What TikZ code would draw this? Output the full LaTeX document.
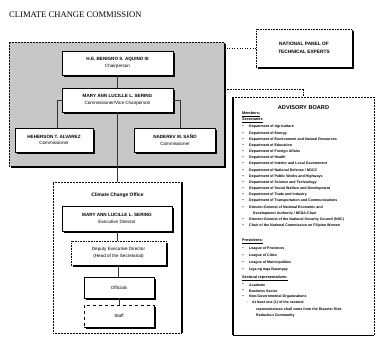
\documentclass[tikz,border=0pt]{standalone}
\usepackage{fontspec}
\setmainfont{Liberation Sans}
\newfontfamily\titlefont{Liberation Serif}
\usetikzlibrary{shadows}
\begin{document}
\begin{tikzpicture}[x=1pt,y=-1pt,
  shadowed/.style={drop shadow={shadow xshift=1.8pt,shadow yshift=-1.8pt,fill=black,opacity=1}},
  pbox/.style={draw=black, line width=0.6pt, fill=white, inner sep=0pt, align=center, shadowed,
     font=\fontsize{4.6}{6.6}\selectfont},
  dotbox/.style={pbox, densely dotted},
  conn/.style={draw=black!80, line width=0.5pt},
  dconn/.style={draw=black, line width=0.6pt, dotted},
  adv/.style={anchor=west, inner sep=0pt, font=\fontsize{3.6}{4}\selectfont\bfseries},
  bul/.style={anchor=center, inner sep=0pt, font=\fontsize{4}{4}\selectfont},
  advhead/.style={anchor=west, inner sep=0pt, font=\fontsize{3.8}{4}\selectfont\bfseries}
]
\useasboundingbox (0,0) rectangle (376,337);

% title
\node[anchor=west, inner sep=0pt, font=\titlefont\fontsize{8.6}{9}\selectfont] (title) at (9,15) {CLIMATE CHANGE COMMISSION};

% commission background
\node[draw=black, densely dotted, line width=0.5pt, fill=black!22, inner sep=0pt,
      minimum width=215pt, minimum height=124pt, shadowed] (comm) at (116.5,104) {};

\node[pbox, minimum width=111pt, minimum height=24pt] (chair) at (117.5,63)
  {\textbf{H.E. BENIGNO S. AQUINO III}\\Chairperson};
\node[pbox, minimum width=111pt, minimum height=24pt] (vice) at (117.5,100)
  {\textbf{MARY ANN LUCILLE L. SERING}\\Commissioner/Vice Chairperson};
\node[pbox, minimum width=78pt, minimum height=24pt] (lc) at (54,140)
  {\textbf{HEHERSON T. ALVAREZ}\\Commissioner};
\node[pbox, minimum width=81pt, minimum height=24pt] (rc) at (175,140)
  {\textbf{NADEREV M. SAÑO}\\Commissioner};

\coordinate (lj) at (57,128);
\coordinate (rj) at (180,128);
\draw[conn] (chair.south) -- (vice.north);
\draw[conn] (vice.west) -| (lj);
\draw[conn] (vice.east) -| (rj);

% national panel
\node[dotbox, minimum width=96pt, minimum height=38pt, font=\fontsize{4.8}{8}\selectfont\bfseries] (npte) at (304,48)
  {NATIONAL PANEL OF\\TECHNICAL EXPERTS};
\draw[dconn] (npte.west) -- (npte.west -| comm.east);

% climate change office
\node[draw=black, densely dotted, line width=0.5pt, fill=white, inner sep=0pt,
      minimum width=129pt, minimum height=151pt] (cco) at (117.5,257.5) {};
\draw[line width=1.6pt] (cco.north east) -- (cco.south east);
\draw[conn] (vice.south) -- (vice.south |- cco.north);
\node[inner sep=0pt, font=\fontsize{4.9}{5}\selectfont\bfseries] (ccol) at (117.5,195) {Climate Change Office};

\node[pbox, minimum width=110pt, minimum height=25pt] (ed) at (117,218.5)
  {\textbf{MARY ANN LUCILLE L. SERING}\\Executive Director};
\node[dotbox, minimum width=95pt, minimum height=24pt] (dep) at (118.5,253)
  {Deputy Executive Director\\(Head of the Secretariat)};
\node[pbox, minimum width=70pt, minimum height=21pt] (off) at (119,287.5) {Officials};
\node[pbox, dashed, minimum width=70pt, minimum height=22pt] (staff) at (119,316) {Staff};
\draw[conn] (ed.south) -- (ed.south |- dep.north);
\draw[conn] (dep.south) -- (dep.south |- off.north);
\draw[conn] (off.south) -- (staff.north);

% advisory board
\node[draw=black, densely dotted, line width=0.5pt, fill=white, inner sep=0pt,
      minimum width=141pt, minimum height=238pt] (adv) at (303.5,216) {};
\draw[line width=1.5pt] (adv.north west) -- (adv.south west);
\draw[line width=1.2pt] (adv.south west) -- (adv.south east);
\coordinate (aj) at (225,89);
\draw[dconn, densely dotted] (aj) -| (adv.north);

\node[inner sep=0pt, font=\fontsize{5.6}{6}\selectfont\bfseries] (advt) at (303.5,108) {ADVISORY BOARD};
\node[advhead] (mem) at (242,114.5) {\underline{Members:}};
\node[advhead] (sec) at (242,120.5) {\underline{Secretaries}};

\node[bul] (b1) at (243,127) {•}; \node[adv] (i1) at (249,127) {Department of Agriculture};
\node[bul] (b2) at (243,133.2) {•}; \node[adv] (i2) at (249,133.2) {Department of Energy};
\node[bul] (b3) at (243,139.3) {•}; \node[adv] (i3) at (249,139.3) {Department of Environment and Natural Resources};
\node[bul] (b4) at (243,145.5) {•}; \node[adv] (i4) at (249,145.5) {Department of Education};
\node[bul] (b5) at (243,151.6) {•}; \node[adv] (i5) at (249,151.6) {Department of Foreign Affairs};
\node[bul] (b6) at (243,157.8) {•}; \node[adv] (i6) at (249,157.8) {Department of Health};
\node[bul] (b7) at (243,164) {•}; \node[adv] (i7) at (249,164) {Department of Interior and Local Government};
\node[bul] (b8) at (243,170.1) {•}; \node[adv] (i8) at (249,170.1) {Department of National Defense / NDCC};
\node[bul] (b9) at (243,176.3) {•}; \node[adv] (i9) at (249,176.3) {Department of Public Works and Highways};
\node[bul] (b10) at (243,182.4) {•}; \node[adv] (i10) at (249,182.4) {Department of Science and Technology};
\node[bul] (b11) at (243,188.6) {•}; \node[adv] (i11) at (249,188.6) {Department of Social Welfare and Development};
\node[bul] (b12) at (243,194.8) {•}; \node[adv] (i12) at (249,194.8) {Department of Trade and Industry};
\node[bul] (b13) at (243,200.9) {•}; \node[adv] (i13) at (249,200.9) {Department of Transportation and Communications};
\node[bul] (b14) at (243,207.1) {•}; \node[adv] (i14) at (249,207.1) {Director-General of National Economic and};
\node[adv] (i14b) at (253,213.2) {Development Authority / NEDA-Chair};
\node[bul] (b15) at (243,219.4) {•}; \node[adv] (i15) at (249,219.4) {Director-General of the National Security Council (NSC)};
\node[bul] (b16) at (243,225.6) {•}; \node[adv] (i16) at (249,225.6) {Chair of the National Commission on Filipino Women};

\node[advhead] (pres) at (242,241.5) {\underline{Presidents:}};
\node[bul] (c1) at (243,248.5) {•}; \node[adv] (p1) at (249,248.5) {League of Provinces};
\node[bul] (c2) at (243,255.5) {•}; \node[adv] (p2) at (249,255.5) {League of Cities};
\node[bul] (c3) at (243,262.5) {•}; \node[adv] (p3) at (249,262.5) {League of Municipalities};
\node[bul] (c4) at (243,269.5) {•}; \node[adv] (p4) at (249,269.5) {Liga ng mga Barangay};

\node[advhead] (sr) at (242,278.5) {\underline{Sectoral representatives:}};
\node[bul] (d1) at (243,285) {•}; \node[adv] (s1) at (249,285) {Academe};
\node[bul] (d2) at (243,291) {•}; \node[adv] (s2) at (249,291) {Business Sector};
\node[bul] (d3) at (243,297) {•}; \node[adv] (s3) at (249,297) {Non-Governmental Organizations};
\node[bul] (d4) at (247,303) {◦}; \node[adv] (s4) at (252,303) {At least one (1) of the sectoral};
\node[adv] (s4b) at (256,309.5) {representatives shall come from the Disaster Risk};
\node[adv] (s4c) at (256,316) {Reduction Community};

\end{tikzpicture}
\end{document}
